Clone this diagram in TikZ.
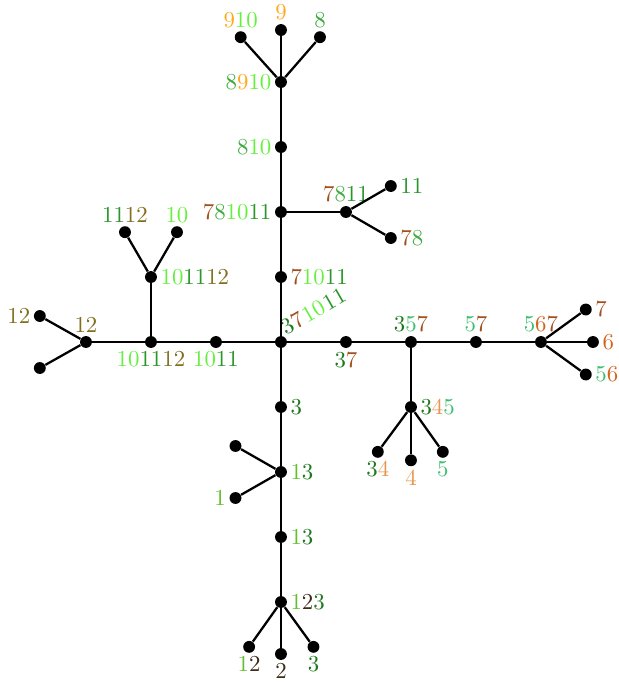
\documentclass[tikz,border=0pt]{standalone}
\usepackage{xcolor}
\usepackage{tikz}

\definecolor{c1}{RGB}{100,190,50}
\definecolor{c2}{RGB}{60,45,25}
\definecolor{c3}{RGB}{30,120,30}
\definecolor{c4}{RGB}{230,150,80}
\definecolor{c5}{RGB}{60,190,110}
\definecolor{c6}{RGB}{210,100,30}
\definecolor{c7}{RGB}{160,80,30}
\definecolor{c8}{RGB}{60,170,60}
\definecolor{c9}{RGB}{255,170,30}
\definecolor{c10}{RGB}{100,240,60}
\definecolor{c11}{RGB}{40,150,40}
\definecolor{c12}{RGB}{130,110,30}
\newcommand{\elm}[1]{{\color{c#1}#1}}

\begin{document}
\begin{tikzpicture}[
    pt/.style={circle, fill=black, inner sep=0pt, minimum size=5.2pt},
    edge/.style={line width=1pt},
    every label/.style={inner sep=1.2pt},
    tilt/.style={rotate=30, anchor=base west, inner sep=0pt, text=c#1}
]
\useasboundingbox (-4.323,-5.231) rectangle (5.2,5.262);

% main vertical line
\node[pt] (c) at (0,0) {};
\node[tilt=3, xshift=0.5pt, yshift=0.5pt] (t3) at (c.north east) {3};
\node[tilt=7] (t7) at (t3.base east) {7};
\node[tilt=10] (t10) at (t7.base east) {10};
\node[tilt=11] (t11) at (t10.base east) {11};
\node[pt, label=right:{\elm7\elm{10}\elm{11}}] (v1) at (0,1) {};
\node[pt, label=left:{\elm7\elm8\elm{10}\elm{11}}] (v2) at (0,2) {};
\node[pt, label=left:{\elm8\elm{10}}] (v3) at (0,3) {};
\node[pt, label=left:{\elm8\elm9\elm{10}}] (v4) at (0,4) {};
\node[pt, label=above:{\elm9\elm{10}}] (l910) at (-0.62,4.69) {};
\node[pt, label=above:{\elm9}] (l9) at (0,4.8) {};
\node[pt, label=above:{\elm8}] (l8) at (0.6,4.69) {};
\node[pt, label=above:{\elm7\elm8\elm{11}}] (n7811) at (1,2) {};
\node[pt, label=right:{\elm{11}}] (l11) at (1.69,2.4) {};
\node[pt, label=right:{\elm7\elm8}] (l78) at (1.69,1.6) {};

% right branch
\node[pt, label=below:{\elm3\elm7}] (n37) at (1,0) {};
\node[pt, label=above:{\elm3\elm5\elm7}] (n357) at (2,0) {};
\node[pt, label=right:{\elm3\elm4\elm5}] (n345) at (2,-1) {};
\node[pt, label=below:{\elm3\elm4}] (l34) at (1.49,-1.69) {};
\node[pt, label=below:{\elm4}] (l4) at (2,-1.82) {};
\node[pt, label=below:{\elm5}] (l5) at (2.49,-1.69) {};
\node[pt, label=above:{\elm5\elm7}] (n57) at (3,0) {};
\node[pt, label=above:{\elm5\elm6\elm7}] (n567) at (4,0) {};
\node[pt, label=right:{\elm7}] (l7) at (4.69,0.5) {};
\node[pt, label=right:{\elm6}] (l6) at (4.8,0) {};
\node[pt, label=right:{\elm5\elm6}] (l56) at (4.69,-0.5) {};

% left branch
\node[pt, label=below:{\elm{10}\elm{11}}] (n1011) at (-1,0) {};
\node[pt, label=below:{\elm{10}\elm{11}\elm{12}}] (n101112) at (-2,0) {};
\node[pt, label=right:{\elm{10}\elm{11}\elm{12}}] (u101112) at (-2,1) {};
\node[pt, label=above:{\elm{11}\elm{12}}] (l1112) at (-2.4,1.69) {};
\node[pt, label=above:{\elm{10}}] (l10) at (-1.6,1.69) {};
\node[pt, label=above:{\elm{12}}] (n12) at (-3,0) {};
\node[pt, label=left:{\elm{12}}] (l12) at (-3.71,0.4) {};
\node[pt] (lx) at (-3.71,-0.4) {};

% lower branch
\node[pt, label=right:{\elm3}] (n3) at (0,-1) {};
\node[pt, label=right:{\elm1\elm3}] (n13a) at (0,-2) {};
\node[pt] (ly) at (-0.7,-1.6) {};
\node[pt, label=left:{\elm1}] (l1) at (-0.7,-2.4) {};
\node[pt, label=right:{\elm1\elm3}] (n13b) at (0,-3) {};
\node[pt, label=right:{\elm1\elm2\elm3}] (n123) at (0,-4) {};
\node[pt, label=below:{\elm1\elm2}] (l12b) at (-0.49,-4.69) {};
\node[pt, label=below:{\elm2}] (l2) at (0,-4.8) {};
\node[pt, label=below:{\elm3}] (l3) at (0.5,-4.69) {};

\draw[edge] (c) -- (v1) -- (v2) -- (v3) -- (v4);
\draw[edge] (v4) -- (l910);
\draw[edge] (v4) -- (l9);
\draw[edge] (v4) -- (l8);
\draw[edge] (v2) -- (n7811);
\draw[edge] (n7811) -- (l11);
\draw[edge] (n7811) -- (l78);
\draw[edge] (c) -- (n37) -- (n357) -- (n57) -- (n567);
\draw[edge] (n357) -- (n345);
\draw[edge] (n345) -- (l34);
\draw[edge] (n345) -- (l4);
\draw[edge] (n345) -- (l5);
\draw[edge] (n567) -- (l7);
\draw[edge] (n567) -- (l6);
\draw[edge] (n567) -- (l56);
\draw[edge] (c) -- (n1011) -- (n101112) -- (n12);
\draw[edge] (n101112) -- (u101112);
\draw[edge] (u101112) -- (l1112);
\draw[edge] (u101112) -- (l10);
\draw[edge] (n12) -- (l12);
\draw[edge] (n12) -- (lx);
\draw[edge] (c) -- (n3) -- (n13a) -- (n13b) -- (n123);
\draw[edge] (n13a) -- (ly);
\draw[edge] (n13a) -- (l1);
\draw[edge] (n123) -- (l12b);
\draw[edge] (n123) -- (l2);
\draw[edge] (n123) -- (l3);
\end{tikzpicture}
\end{document}
